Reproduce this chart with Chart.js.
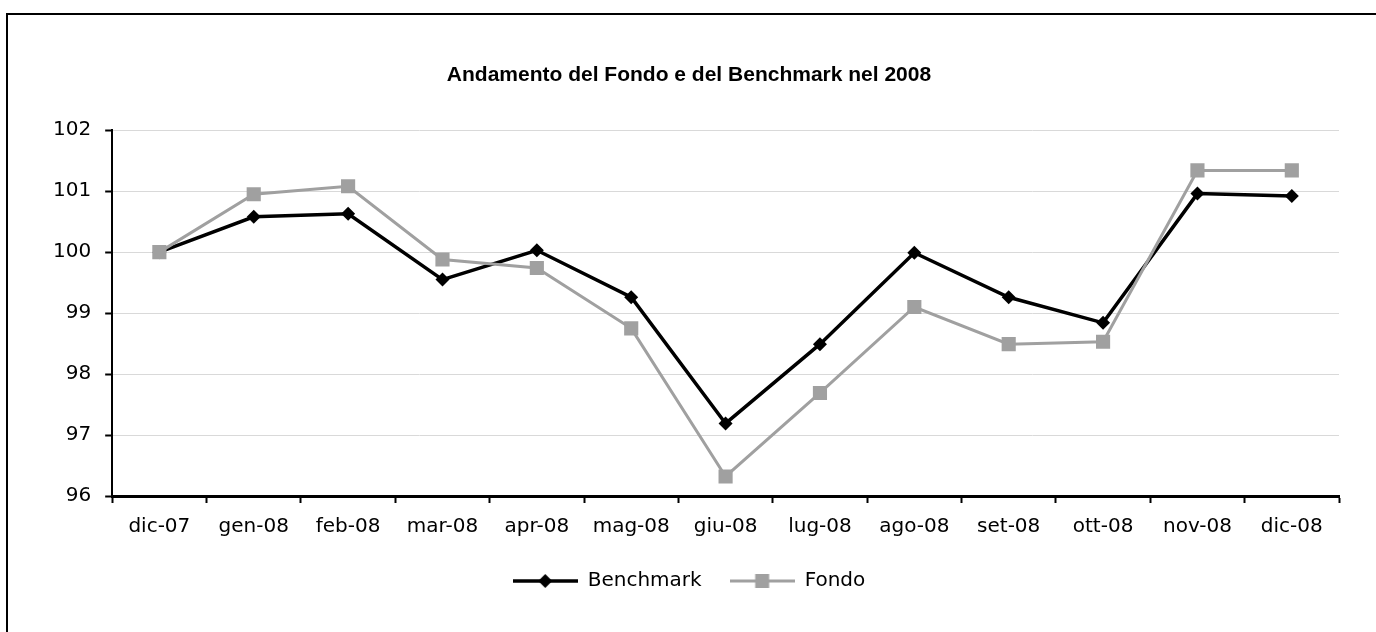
<!DOCTYPE html>
<html>
<head>
<meta charset="utf-8">
<script src="https://cdn.jsdelivr.net/npm/chart.js@4"></script>
<style>
  html, body { margin: 0; padding: 0; background: #fff; }
  #frame { position: absolute; left: 6px; top: 13px; width: 1400px; height: 700px;
           border-left: 2px solid #000; border-top: 2px solid #000; }
  #wrap { position: absolute; left: 0; top: 0; width: 1376px; height: 632px; }
</style>
</head>
<body>
<div id="frame"></div>
<div id="wrap"><canvas id="fondoChart"></canvas></div>
<script>
  const months = ["dic-07", "gen-08", "feb-08", "mar-08", "apr-08", "mag-08", "giu-08",
                  "lug-08", "ago-08", "set-08", "ott-08", "nov-08", "dic-08"];
  const benchmark = [100, 100.58, 100.63, 99.55, 100.03, 99.26, 97.19,
                     98.49, 99.99, 99.26, 98.84, 100.96, 100.92];
  const fondo = [100, 100.95, 101.08, 99.88, 99.74, 98.75, 96.32,
                 97.69, 99.1, 98.49, 98.53, 101.34, 101.34];
  const yTicks = [96, 97, 98, 99, 100, 101, 102];

  const black = "#000000";
  const grey = "#a0a0a0";

  // little line+marker icons for the legend
  function legendIcon(color, shape, lw) {
    const c = document.createElement("canvas");
    c.width = 65;
    c.height = 16;
    const g = c.getContext("2d");
    g.strokeStyle = color;
    g.lineWidth = lw;
    g.beginPath();
    g.moveTo(0, 8);
    g.lineTo(65, 8);
    g.stroke();
    g.fillStyle = color;
    g.beginPath();
    if (shape === "diamond") {
      g.moveTo(32.5, 1); g.lineTo(39.5, 8); g.lineTo(32.5, 15); g.lineTo(25.5, 8);
    } else {
      g.rect(25.5, 1, 14, 14);
    }
    g.fill();
    return c;
  }
  const icons = [legendIcon(black, "diamond", 3.5), legendIcon(grey, "square", 3)];

  Chart.defaults.font.family = "'DejaVu Sans', sans-serif";
  Chart.defaults.font.size = 20;
  Chart.defaults.color = "#000";

  const ctx = document.getElementById("fondoChart").getContext("2d");
  const chart = new Chart(ctx, {
    type: "line",
    data: {
      labels: months,
      datasets: [
        {
          label: "Benchmark",
          data: benchmark,
          borderColor: black,
          backgroundColor: black,
          borderWidth: 3.5,
          pointStyle: "rectRot",
          pointRadius: 7,
          pointBorderWidth: 0,
          pointBackgroundColor: black,
          tension: 0,
          order: 1,
        },
        {
          label: "Fondo",
          data: fondo,
          borderColor: grey,
          backgroundColor: grey,
          borderWidth: 3,
          pointStyle: "rect",
          pointRadius: 10,
          pointBorderWidth: 0,
          pointBackgroundColor: grey,
          tension: 0,
          order: 0,
        },
      ],
    },
    options: {
      responsive: true,
      maintainAspectRatio: false,
      animation: false,
      layout: { autoPadding: false, padding: { left: 39, right: 37, top: 0, bottom: 31 } },
      plugins: {
        title: {
          display: true,
          text: "Andamento del Fondo e del Benchmark nel 2008",
          font: { family: "'Liberation Sans', Arial, sans-serif", size: 21, weight: "bold", lineHeight: 1.2 },
          color: "#000",
          padding: { top: 63, bottom: 42 },
        },
        legend: {
          position: "bottom",
          labels: {
            usePointStyle: true,
            pointStyleWidth: 65,
            padding: 28,
            color: "#000",
            sort: (a, b) => a.datasetIndex - b.datasetIndex,
            generateLabels(ch) {
              const items = Chart.defaults.plugins.legend.labels.generateLabels(ch);
              items.forEach(it => { it.pointStyle = icons[it.datasetIndex]; });
              return items;
            },
          },
        },
        tooltip: { enabled: false },
      },
      scales: {
        x: {
          offset: true,
          grid: {
            offset: true,
            drawOnChartArea: false,
            drawTicks: true,
            tickLength: 7,
            tickColor: black,
            tickWidth: 2,
          },
          border: { color: black, width: 3 },
          ticks: { padding: 12, maxRotation: 0, autoSkip: false },
          afterFit(scale) { scale.height -= 8; },
        },
        y: {
          min: yTicks[0],
          max: yTicks[yTicks.length - 1],
          afterBuildTicks(scale) { scale.ticks = yTicks.map(v => ({ value: v })); },
          grid: {
            color: "#d9d9d9",
            lineWidth: 1,
            tickLength: 7,
            tickColor: black,
            tickWidth: 2,
          },
          border: { color: black, width: 2 },
          ticks: { padding: 14 },
        },
      },
    },
  });
</script>
</body>
</html>
